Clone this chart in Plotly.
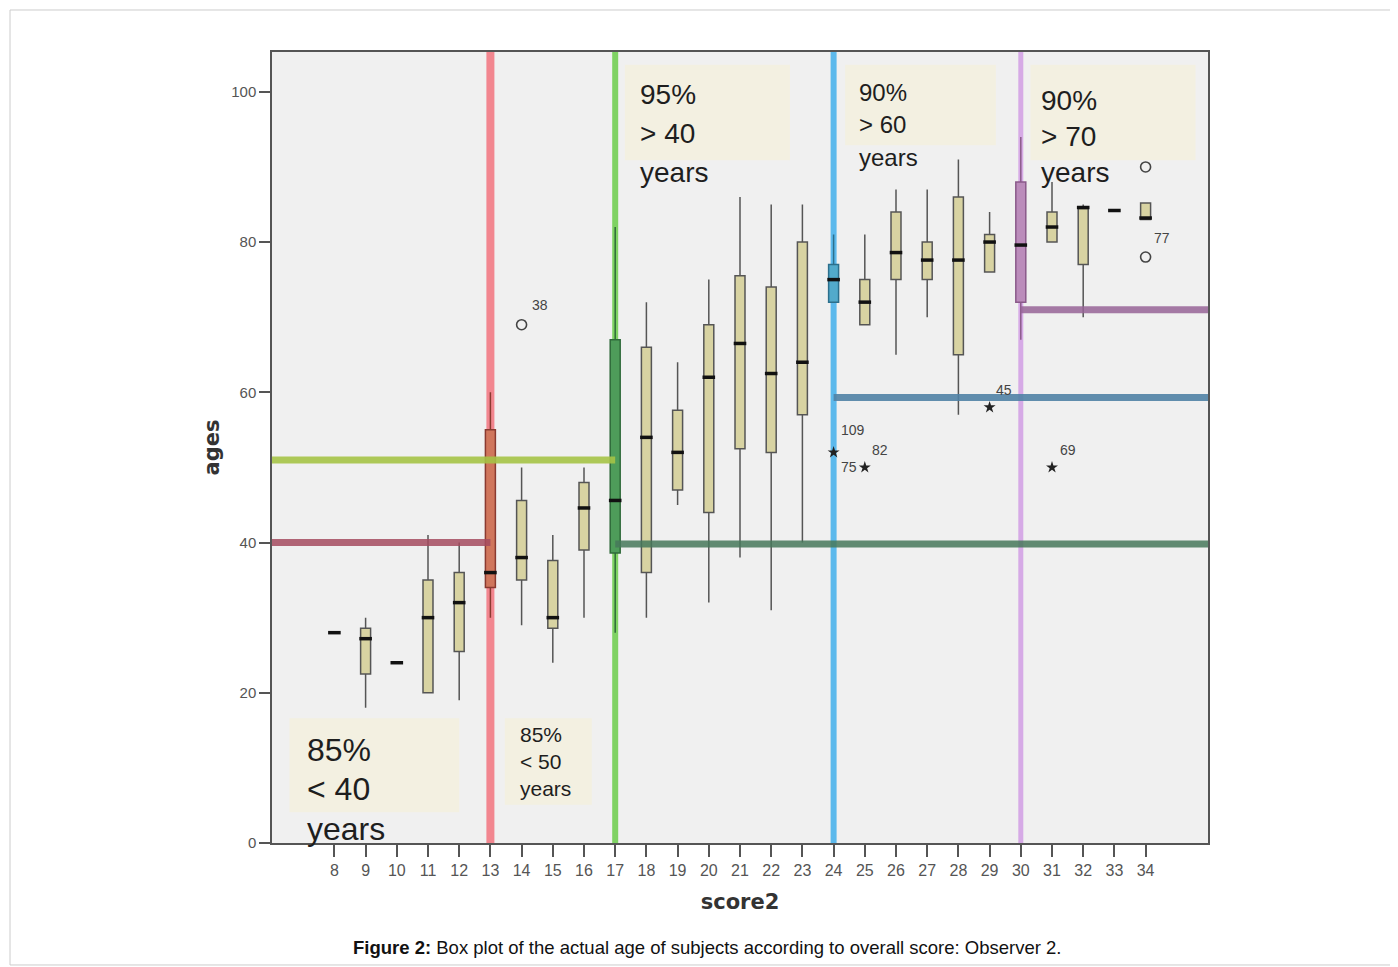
import plotly.graph_objects as go

# ---------------- data ----------------
scores = [8, 9, 10, 11, 12, 13, 14, 15, 16, 17, 18, 19, 20, 21, 22, 23, 24, 25, 26, 27, 28, 29, 30, 31, 32, 33, 34]
lower  = [28, 18, 24, 20, 19, 30, 29, 24, 30, 28, 30, 45, 32, 38, 31, 40, 72, 69, 65, 70, 57, 76, 67, 80, 70, 84.2, 83]
q1     = [28, 22.5, 24, 20, 25.5, 34, 35, 28.6, 39, 38.6, 36, 47, 44, 52.5, 52, 57, 72, 69, 75, 75, 65, 76, 72, 80, 77, 84.2, 83]
median = [28, 27.2, 24, 30, 32, 36, 38, 30, 44.6, 45.6, 54, 52, 62, 66.5, 62.5, 64, 75, 72, 78.6, 77.6, 77.6, 80, 79.6, 82, 84.6, 84.2, 83.2]
q3     = [28, 28.6, 24, 35, 36, 55, 45.6, 37.6, 48, 67, 66, 57.6, 69, 75.5, 74, 80, 77, 75, 84, 80, 86, 81, 88, 84, 84.6, 84.2, 85.2]
upper  = [28, 30, 24, 41, 40, 60, 50, 41, 50, 82, 72, 64, 75, 86, 85, 85, 81, 81, 87, 87, 91, 84, 94, 88, 85, 84.2, 85.2]

# highlighted (cut-point) boxes
cut_scores = [13, 17, 24, 30]
cut_fill   = ["#d0765c", "#4e9c5a", "#52aacb", "#bb8cbb"]
cut_edge   = ["#8a3a30", "#2f6a3a", "#2c6f8c", "#8a5a8a"]
cut_vline  = ["#f2868f", "#7fd263", "#5cb9ec", "#d6aae6"]
cut_vwidth = [8, 6, 6, 5]

# threshold lines (start score, end score, age)
thr_start = [6, 6, 17, 24, 30]
thr_end   = [13, 17, 36, 36, 36]
thr_age   = [40, 51, 39.8, 59.3, 71]
thr_color = ["rgba(165,75,95,0.85)", "rgba(165,195,70,0.9)", "rgba(70,120,90,0.85)",
             "rgba(80,130,165,0.9)", "rgba(150,100,150,0.85)"]

# outliers
circ_x = [14, 34, 34]
circ_y = [69, 90, 78]
star_x = [24, 25, 29, 31]
star_y = [52, 50, 58, 50]
lab_text = ["38", "109", "82", "75", "45", "69", "77"]
lab_x    = [14.6, 24.62, 25.5, 24.5, 29.45, 31.5, 34.52]
lab_y    = [71.6, 55.0, 52.3, 50.1, 60.3, 52.3, 80.6]

# annotation text blocks
blocks = [
    {"lines": ["85%", "< 40", "years"], "x": 7.10, "y": [12.4, 7.2, 1.9], "size": 32, "bg": [6.56, 12.0, 4.1, 16.6]},
    {"lines": ["85%", "< 50", "years"], "x": 13.91, "y": [14.4, 10.8, 7.2], "size": 21, "bg": [13.46, 16.25, 5.1, 16.6]},
    {"lines": ["95%", "> 40", "years"], "x": 17.76, "y": [99.6, 94.4, 89.2], "size": 28, "bg": [17.31, 22.6, 90.9, 103.6]},
    {"lines": ["90%", "> 60", "years"], "x": 24.79, "y": [99.9, 95.6, 91.2], "size": 24, "bg": [24.37, 29.2, 92.9, 103.6]},
    {"lines": ["90%", "> 70", "years"], "x": 30.63, "y": [98.9, 94.0, 89.3], "size": 28, "bg": [30.31, 35.6, 90.9, 103.6]},
]

x_ticks = scores
y_ticks = [0, 20, 40, 60, 80, 100]
x_range = [6, 36]
y_range = [0, 105.3]

FONT = "Liberation Sans, Arial, sans-serif"
TITLE_FONT = "DejaVu Sans, sans-serif"

fig = go.Figure()

# vertical cut lines (below traces)
for s, c, w in zip(cut_scores, cut_vline, cut_vwidth):
    fig.add_shape(type="line", xref="x", yref="y", x0=s, x1=s, y0=y_range[0], y1=y_range[1],
                  line=dict(color=c, width=w), layer="below")

# text block backgrounds
for b in blocks:
    x0, x1, y0, y1 = b["bg"]
    fig.add_shape(type="rect", xref="x", yref="y", x0=x0, x1=x1, y0=y0, y1=y1,
                  fillcolor="#f3f0e1", line=dict(width=0), layer="below")

# normal boxes
idx_norm = [i for i, s in enumerate(scores) if s not in cut_scores]
fig.add_trace(go.Box(
    x=[scores[i] for i in idx_norm],
    q1=[q1[i] for i in idx_norm], median=[median[i] for i in idx_norm], q3=[q3[i] for i in idx_norm],
    lowerfence=[lower[i] for i in idx_norm], upperfence=[upper[i] for i in idx_norm],
    fillcolor="#d8d3a2", line=dict(color="#555555", width=1.5), width=0.32, whiskerwidth=0,
    boxpoints=False, showlegend=False, hoverinfo="skip"))

# highlighted boxes
for s, fc, ec in zip(cut_scores, cut_fill, cut_edge):
    i = scores.index(s)
    fig.add_trace(go.Box(
        x=[s], q1=[q1[i]], median=[median[i]], q3=[q3[i]], lowerfence=[lower[i]], upperfence=[upper[i]],
        fillcolor=fc, line=dict(color=ec, width=1.5), width=0.32, whiskerwidth=0,
        boxpoints=False, showlegend=False, hoverinfo="skip"))

# thick medians
fig.add_trace(go.Scatter(
    x=scores, y=median, mode="markers",
    marker=dict(symbol="line-ew", size=9, line=dict(color="#111111", width=3.5)),
    showlegend=False, hoverinfo="skip"))

# threshold lines (above)
for xs, xe, a, c in zip(thr_start, thr_end, thr_age, thr_color):
    fig.add_trace(go.Scatter(x=[xs, xe], y=[a, a], mode="lines",
                             line=dict(color=c, width=7), showlegend=False, hoverinfo="skip"))

# outliers
fig.add_trace(go.Scatter(x=circ_x, y=circ_y, mode="markers",
                         marker=dict(symbol="circle-open", size=10, color="#444444", line=dict(width=1.6)),
                         showlegend=False, hoverinfo="skip"))
fig.add_trace(go.Scatter(x=star_x, y=star_y, mode="markers",
                         marker=dict(symbol="star", size=9, color="#222222"),
                         showlegend=False, hoverinfo="skip"))

annotations = []
for t, x, y in zip(lab_text, lab_x, lab_y):
    annotations.append(dict(x=x, y=y, xref="x", yref="y", text=t, showarrow=False,
                            font=dict(family=FONT, size=14, color="#444444")))
for b in blocks:
    for line, y in zip(b["lines"], b["y"]):
        annotations.append(dict(x=b["x"], y=y, xref="x", yref="y", text=line, showarrow=False,
                                xanchor="left", yanchor="middle", borderpad=0,
                                font=dict(family=FONT, size=b["size"], color="#1e1e1e")))

# caption
annotations.append(dict(x=0.4658, y=-0.1315, xref="paper", yref="paper", showarrow=False,
                        xanchor="center", yanchor="middle",
                        text="<b>Figure 2:</b> Box plot of the actual age of subjects according to overall score: Observer 2.",
                        font=dict(family=FONT, size=18.5, color="#111111")))

# outer frame
fig.add_shape(type="rect", xref="paper", yref="paper", x0=-0.2799, x1=1.1966, y0=-0.1542, y1=1.0531,
              line=dict(color="#cccccc", width=1), fillcolor="rgba(0,0,0,0)", layer="below")

fig.update_layout(
    width=1390, height=959,
    margin=dict(l=264, r=190, t=44, b=124),
    paper_bgcolor="white", plot_bgcolor="#f0f0f0",
    boxmode="overlay",
    annotations=annotations,
    font=dict(family=FONT),
    xaxis=dict(range=x_range, tickmode="array", tickvals=x_ticks, ticktext=[str(v) for v in x_ticks],
               showgrid=False, zeroline=False, showline=True, mirror=True, linecolor="#555555", linewidth=1.5,
               ticks="outside", ticklen=12, tickwidth=1.5, tickcolor="#555555",
               tickfont=dict(family=FONT, size=16, color="#555555"),
               title=dict(text="<b>score2</b>", font=dict(family=TITLE_FONT, size=21, color="#333333"), standoff=16)),
    yaxis=dict(range=y_range, tickmode="array", tickvals=y_ticks, ticktext=[str(v) for v in y_ticks],
               showgrid=False, zeroline=False, showline=True, mirror=True, linecolor="#555555", linewidth=1.5,
               ticks="outside", ticklen=11, tickwidth=1.5, tickcolor="#555555",
               tickfont=dict(family=FONT, size=15, color="#555555"),
               title=dict(text="<b>ages</b>", font=dict(family=TITLE_FONT, size=21, color="#333333"), standoff=6)),
)

fig.write_html("out.html")
